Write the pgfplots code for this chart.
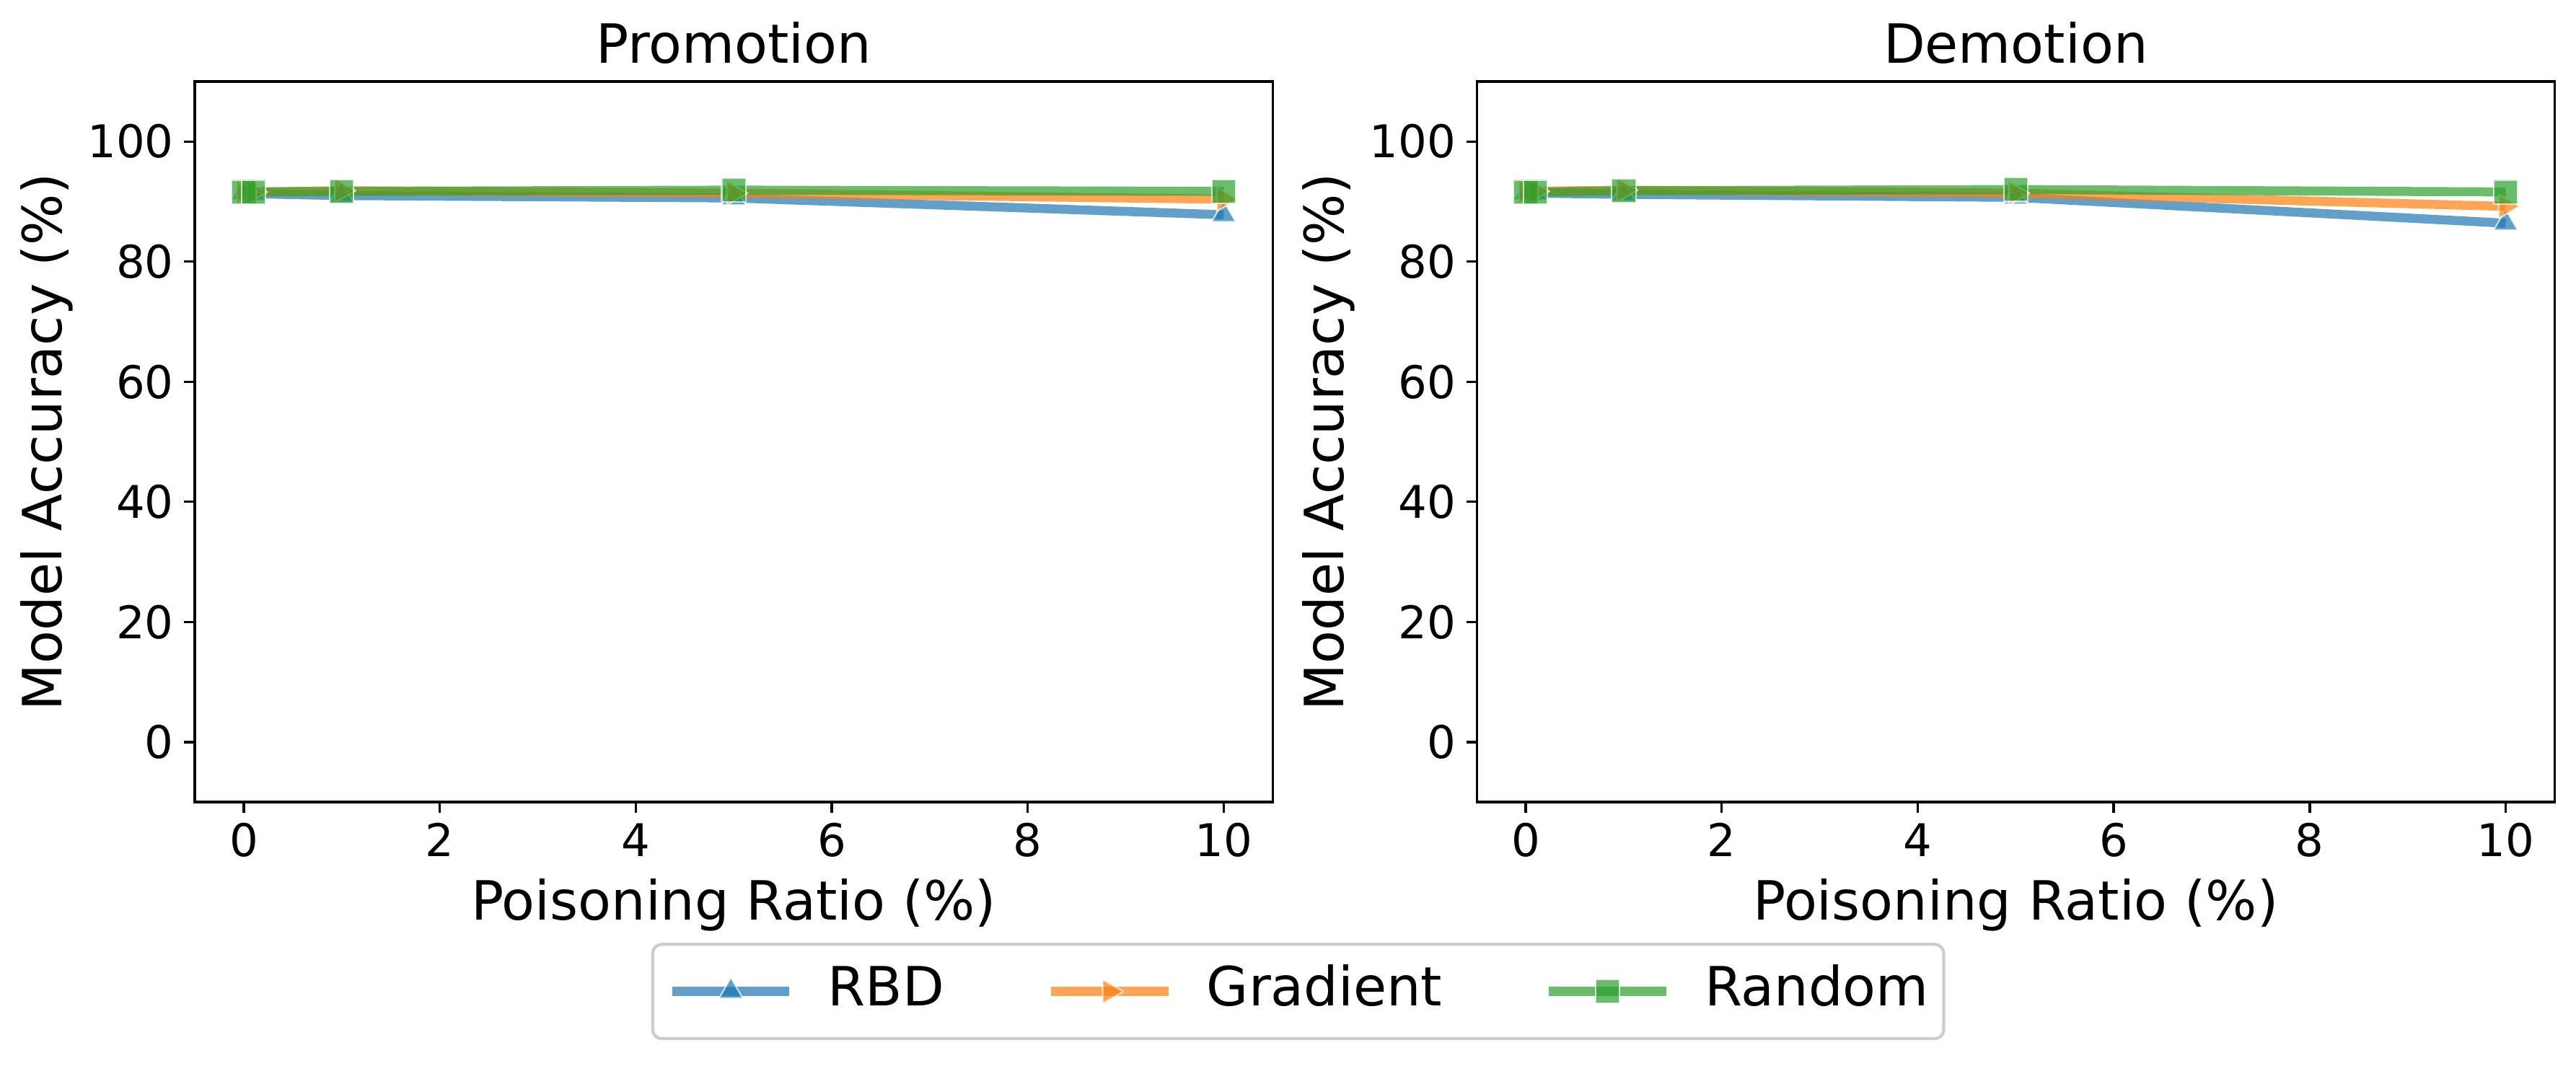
\documentclass[border=0pt]{standalone}
\usepackage{fontspec}
\setmainfont{DejaVu Sans}
\usepackage{pgfplots}
\pgfplotsset{compat=1.18}

\definecolor{tabblue}{HTML}{1F77B4}
\definecolor{taborange}{HTML}{FF7F0E}
\definecolor{tabgreen}{HTML}{2CA02C}

\pgfplotsset{
  accpanel/.style={
    scale only axis,
    width=358.6pt, height=239.8pt,
    xmin=-0.5, xmax=10.5, ymin=-10, ymax=110,
    xtick={0,2,...,10}, ytick={0,20,...,100},
    tick align=outside, major tick length=3.5pt,
    xtick pos=left, ytick pos=left,
    tick style={line width=0.8pt, black},
    axis line style={line width=0.8pt},
    /pgf/number format/assume math mode=true,
    ticklabel style={font=\fontsize{15}{18}\selectfont},
    xlabel={Poisoning Ratio (\%)},
    ylabel={Model Accuracy (\%)},
    label style={font=\fontsize{18}{22}\selectfont},
    xlabel style={at={(axis description cs:0.5,-0.163)}, anchor=base},
    ylabel style={at={(axis description cs:-0.1233,0.5)}, anchor=base},
    every axis title shift=0pt,
    title style={at={(axis description cs:0.5,1.0259)}, anchor=base, font=\fontsize{18}{22}\selectfont},
    every axis plot/.append style={line width=3pt, opacity=0.7, line join=round},
  },
  rbd/.style={tabblue, mark=triangle*, mark size=4.6pt,
    mark options={fill=tabblue, draw=white, line width=0.5pt, opacity=0.7}},
  grad/.style={taborange, mark=triangle*, mark size=4.6pt,
    mark options={fill=taborange, draw=white, line width=0.5pt, opacity=0.7, rotate=-90}},
  rnd/.style={tabgreen, mark=square*, mark size=4pt,
    mark options={fill=tabgreen, draw=white, line width=0.5pt, opacity=0.7}},
}

\begin{document}
\begin{tikzpicture}
\useasboundingbox (0,0) rectangle (857pt,354.5pt);

% Promotion
\begin{axis}[accpanel, at={(64.8pt,87.6pt)}, anchor=south west, title={Promotion},
  legend columns=3,
  legend image code/.code={\draw[mark repeat=2, mark phase=2] plot coordinates {(0pt,0pt) (19.5pt,0pt) (39pt,0pt)};},
  legend style={at={(1.0237,-0.1952)}, anchor=north,
    draw=black!20, line width=1pt, rounded corners=3pt,
    font=\fontsize{18}{22}\selectfont,
    inner xsep=5pt, inner ysep=6.7pt,
    nodes={inner sep=0pt, text height=13.7pt, text depth=4.3pt},
    /tikz/every odd column/.append style={column sep=11.3pt},
    /tikz/every even column/.append style={column sep=34pt}},
]
\addplot[rbd] coordinates {(0,91.5) (0.1,91.3) (1,91.0) (5,90.6) (10,87.8)};
\addplot[grad] coordinates {(0,91.6) (0.1,91.6) (1,91.8) (5,91.4) (10,90.4)};
\addplot[rnd] coordinates {(0,91.6) (0.1,91.6) (1,91.7) (5,91.9) (10,91.7)};
\legend{RBD,Gradient,Random}
\end{axis}

% Demotion
\begin{axis}[accpanel, at={(491.3pt,87.6pt)}, anchor=south west, title={Demotion}]
\addplot[rbd] coordinates {(0,91.5) (0.1,91.4) (1,91.2) (5,90.7) (10,86.4)};
\addplot[grad] coordinates {(0,91.7) (0.1,91.7) (1,91.9) (5,91.4) (10,89.2)};
\addplot[rnd] coordinates {(0,91.6) (0.1,91.6) (1,91.8) (5,92.0) (10,91.6)};
\end{axis}
\end{tikzpicture}
\end{document}
